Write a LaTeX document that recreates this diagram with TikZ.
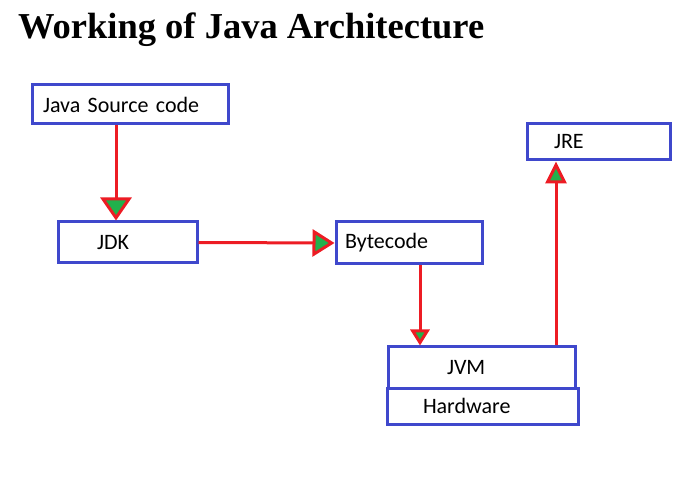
\documentclass[tikz,border=0pt]{standalone}
\usepackage{fontspec}
\setmainfont{Carlito}
\newfontfamily\titlefont{Liberation Serif}
\usepackage{tikz}
\usetikzlibrary{arrows.meta}
\definecolor{boxblue}{RGB}{63,72,204}
\definecolor{linered}{RGB}{237,28,36}
\definecolor{tipgreen}{RGB}{34,177,76}
\tikzset{
every picture/.style={x=1pt, y=-1pt},
box/.style={draw=boxblue, line width=3pt, rectangle, inner xsep=0pt, inner ysep=0pt,
  align=left, font=\fontsize{22}{26}\selectfont},
flow/.style={draw=linered, line width=3pt}
}

\begin{document}
\begin{tikzpicture}
    \useasboundingbox (0,0) rectangle (693,502);
    \node[anchor=base west, inner sep=0pt, font=\titlefont\bfseries\fontsize{36.5}{40}\selectfont] (title) at (18,39) {Working of Java Architecture};

    \node[box, minimum width=196pt, minimum height=39pt, text width=196pt] (src) at (130,104.5) {\hspace*{11pt}Java Source code};
    \node[box, minimum width=139pt, minimum height=41pt, text width=139pt] (jdk) at (127.5,242.5) {\hspace*{39pt}JDK};
    \node[box, minimum width=146pt, minimum height=42pt, text width=146pt] (byte) at (409,243) {\hspace*{9pt}Bytecode};
    \node[box, minimum width=143pt, minimum height=36pt, text width=143pt] (jre) at (598.5,142) {\hspace*{27pt}JRE};
    \node[box, minimum width=187pt, minimum height=41pt, text width=187pt] (jvm) at (481.5,367.5) {\hspace*{59pt}JVM};
    \node[box, minimum width=191pt, minimum height=36pt, text width=191pt] (hw) at (482.5,406) {\hspace*{36pt}Hardware};

    \draw[flow, -{Triangle[length=23pt, width=31pt, fill=tipgreen]}] ([xshift=-14pt]src.south) -- ([xshift=-11.5pt]jdk.north);
    \draw[flow, -{Triangle[length=22pt, width=27pt, fill=tipgreen]}] (jdk.east) -- (byte.west);
    \draw[flow, -{Triangle[length=16pt, width=19pt, fill=tipgreen]}] ([xshift=11pt]byte.south) -- ([xshift=11pt]byte.south |- jvm.north);
    \draw[flow, -{Triangle[length=22pt, width=21pt, fill=tipgreen]}] ([xshift=74.5pt]jvm.north) -- ([xshift=74.5pt]jvm.north |- jre.south);
\end{tikzpicture}
\end{document}
